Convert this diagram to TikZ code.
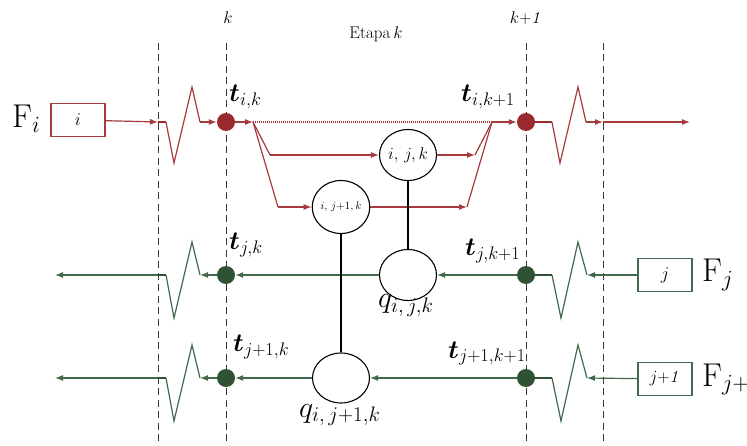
\documentclass[tikz,border=0pt]{standalone}
\usepackage{fix-cm}
\usepackage{amsmath}
\usetikzlibrary{arrows.meta,shapes.geometric}
\definecolor{rd}{HTML}{A53B3E}
\definecolor{rdd}{HTML}{9A2A2D}
\definecolor{gn}{HTML}{41694A}
\definecolor{gnd}{HTML}{2F5235}
\newcommand{\tlab}[1]{\fontsize{26}{26}\selectfont$\boldsymbol{t}_{#1}$}
\newcommand{\qlab}[1]{\fontsize{30}{30}\selectfont$q_{#1}$}
\newcommand{\Flab}[1]{\fontsize{33}{33}\selectfont$\mathrm{F}_{#1}$}
\begin{document}
\begin{tikzpicture}[x=1pt,y=-1pt,
  sepline/.style={dash pattern=on 7pt off 4.5pt, line width=1pt, black!78},
  rline/.style={draw=rd, line width=1.2pt},
  rarr/.style={rline, -{Latex[length=8pt,width=6pt]}},
  rthick/.style={draw=rdd, line width=2.4pt},
  gline/.style={draw=gn, line width=1.2pt},
  garr/.style={gline, -{Latex[length=8pt,width=6pt]}},
  gthick/.style={draw=gnd, line width=2.4pt},
  rdot/.style={circle, fill=rdd, minimum size=18pt, inner sep=0pt},
  gdot/.style={circle, fill=gnd, minimum size=18pt, inner sep=0pt},
  ell/.style={ellipse, draw, line width=1.1pt, minimum width=57pt, minimum height=51pt, inner sep=0pt},
  rbox/.style={rectangle, draw=rd, line width=1.2pt, minimum width=54pt, minimum height=33pt},
  gbox/.style={rectangle, draw=gn, line width=1.2pt, minimum width=54pt, minimum height=33pt},
  blk/.style={draw=black, line width=2pt}
]
\useasboundingbox (0,0) rectangle (747,446);

% top labels and separators
\node (lk) at (228,18) {\fontsize{17}{17}\selectfont$k$};
\node (lk1) at (526,18) {\fontsize{17}{17}\selectfont$k{+}\mathit{1}$};
\node (let) at (376,34) {\fontsize{17}{17}\selectfont Etapa\,$k$};
\foreach \x/\n in {158/d1,226/d2,526/d3,603/d4}{
  \coordinate (\n t) at (\x,43);
  \coordinate (\n b) at (\x,446);
  \draw[sepline] (\n t) -- (\n b);
}

% ---------------- red row (i)
\node[rbox] (bi) at (78,120) {\fontsize{18}{18}\selectfont$i$};
\node[anchor=base west, inner sep=0pt] (Fi) at (12,128) {\Flab{i}};
\coordinate (r1) at (158,122);
\coordinate (r2) at (166,122);
\coordinate (r3) at (174,163);
\coordinate (r4) at (192,87);
\coordinate (r5) at (200,122);
\node[rdot] (ti) at (226,122) {};
\draw[rarr] (bi) -- (r1);
\draw[rthick] (r1) -- (r2);
\draw[rline] (r2) -- (r3) -- (r4) -- (r5);
\draw[rarr] (r5) -- (ti);
\coordinate (s) at (253,122);
\coordinate (m) at (492,122);
\draw[rarr] (ti) -- (s);
\draw[rd, line width=1.3pt, dash pattern=on 1pt off 1pt] (s) -- (m);

\node[ell] (eijk) at (408,155) {\fontsize{17}{17}\selectfont$i,\,j,k$};
\node[ell, minimum width=56pt, minimum height=53pt] (eij1k) at (341,207) {\fontsize{11}{11}\selectfont$i,\,j{+}1,k$};

\coordinate (b1) at (270,155);
\coordinate (b2) at (278,207);
\draw[rline] (s) -- (b1);
\draw[rarr] (b1) -- (eijk);
\draw[rline] (s) -- (b2);
\draw[rarr] (b2) -- (eij1k);
\coordinate (c1) at (475,155);
\coordinate (c2) at (467,207);
\draw[rarr] (eijk) -- (c1);
\draw[rline] (c1) -- (m);
\draw[rarr] (eij1k) -- (c2);
\draw[rline] (c2) -- (m);
\node[rdot] (tik1) at (526,122) {};
\draw[rarr] (m) -- (tik1);
\coordinate (z1) at (552,122);
\coordinate (z2) at (560,163);
\coordinate (z3) at (578,87);
\coordinate (z4) at (586,122);
\coordinate (z5) at (603,122);
\coordinate (z6) at (690,122);
\draw[rthick] (tik1) -- (z1);
\draw[rline] (z1) -- (z2) -- (z3) -- (z4);
\draw[rarr] (z4) -- (z5);
\draw[rarr] (z5) -- (z6);

\node[anchor=base west, inner sep=0pt] (lti) at (229,102) {\tlab{i,k}};
\node[anchor=base west, inner sep=0pt] (ltik1) at (461,102) {\tlab{i,k+1}};

% ---------------- green row (j)
\node[gbox] (bj) at (665,275) {\fontsize{18}{18}\selectfont$j$};
\node[anchor=base west, inner sep=0pt] (Fj) at (702,282) {\Flab{j}};
\node[gdot] (tjk1) at (526,275) {};
\node[gdot] (tjk) at (226,275) {};
\node[ell] (qijk) at (408,275) {};
\coordinate (g1) at (587,275);
\coordinate (g2) at (578,242);
\coordinate (g3) at (561,318);
\coordinate (g4) at (552,275);
\draw[garr] (bj) -- (g1);
\draw[gline] (g1) -- (g2) -- (g3) -- (g4);
\draw[gthick] (g4) -- (tjk1);
\draw[garr] (tjk1) -- (qijk);
\draw[garr] (qijk) -- (tjk);
\coordinate (h1) at (200,275);
\coordinate (h2) at (192,242);
\coordinate (h3) at (174,318);
\coordinate (h4) at (166,275);
\coordinate (h5) at (158,275);
\coordinate (h6) at (55,275);
\draw[garr] (tjk) -- (h1);
\draw[gline] (h1) -- (h2) -- (h3) -- (h4);
\draw[gthick] (h4) -- (h5);
\draw[garr] (h5) -- (h6);

% ---------------- green row (j+1)
\node[gbox] (bj1) at (665,379) {\fontsize{17}{17}\selectfont$j{+}\mathit{1}$};
\node[anchor=base west, inner sep=0pt] (Fj1) at (702,386) {\Flab{j+1}};
\node[gdot] (tj1k1) at (526,378) {};
\node[gdot] (tj1k) at (226,378) {};
\node[ell, minimum height=50pt] (qij1k) at (341,378) {};
\coordinate (k1) at (587,378);
\coordinate (k2) at (578,345);
\coordinate (k3) at (561,421);
\coordinate (k4) at (552,378);
\draw[garr] (bj1) -- (k1);
\draw[gline] (k1) -- (k2) -- (k3) -- (k4);
\draw[gthick] (k4) -- (tj1k1);
\draw[garr] (tj1k1) -- (qij1k);
\draw[garr] (qij1k) -- (tj1k);
\coordinate (n1) at (200,378);
\coordinate (n2) at (192,345);
\coordinate (n3) at (174,421);
\coordinate (n4) at (166,378);
\coordinate (n5) at (158,378);
\coordinate (n6) at (55,378);
\draw[garr] (tj1k) -- (n1);
\draw[gline] (n1) -- (n2) -- (n3) -- (n4);
\draw[gthick] (n4) -- (n5);
\draw[garr] (n5) -- (n6);

% vertical links
\draw[blk] (eijk) -- (qijk);
\draw[blk] (eij1k) -- (qij1k);

% labels
\node[anchor=base west, inner sep=0pt] (ltjk) at (229,250) {\tlab{j,k}};
\node[anchor=base west, inner sep=0pt] (ltj1k) at (233,352) {\tlab{j+1,k}};
\node[anchor=base west, inner sep=0pt] (ltjk1) at (465,256) {\tlab{j,k+1}};
\node[anchor=base west, inner sep=0pt] (ltj1k1) at (448,358) {\tlab{j+1,k+1}};
\node[anchor=base west, inner sep=0pt] (lq1) at (378,308) {\qlab{i,\,j,k}};
\node[anchor=base west, inner sep=0pt] (lq2) at (299,417) {\qlab{i,\,j+1,k}};
\end{tikzpicture}
\end{document}
